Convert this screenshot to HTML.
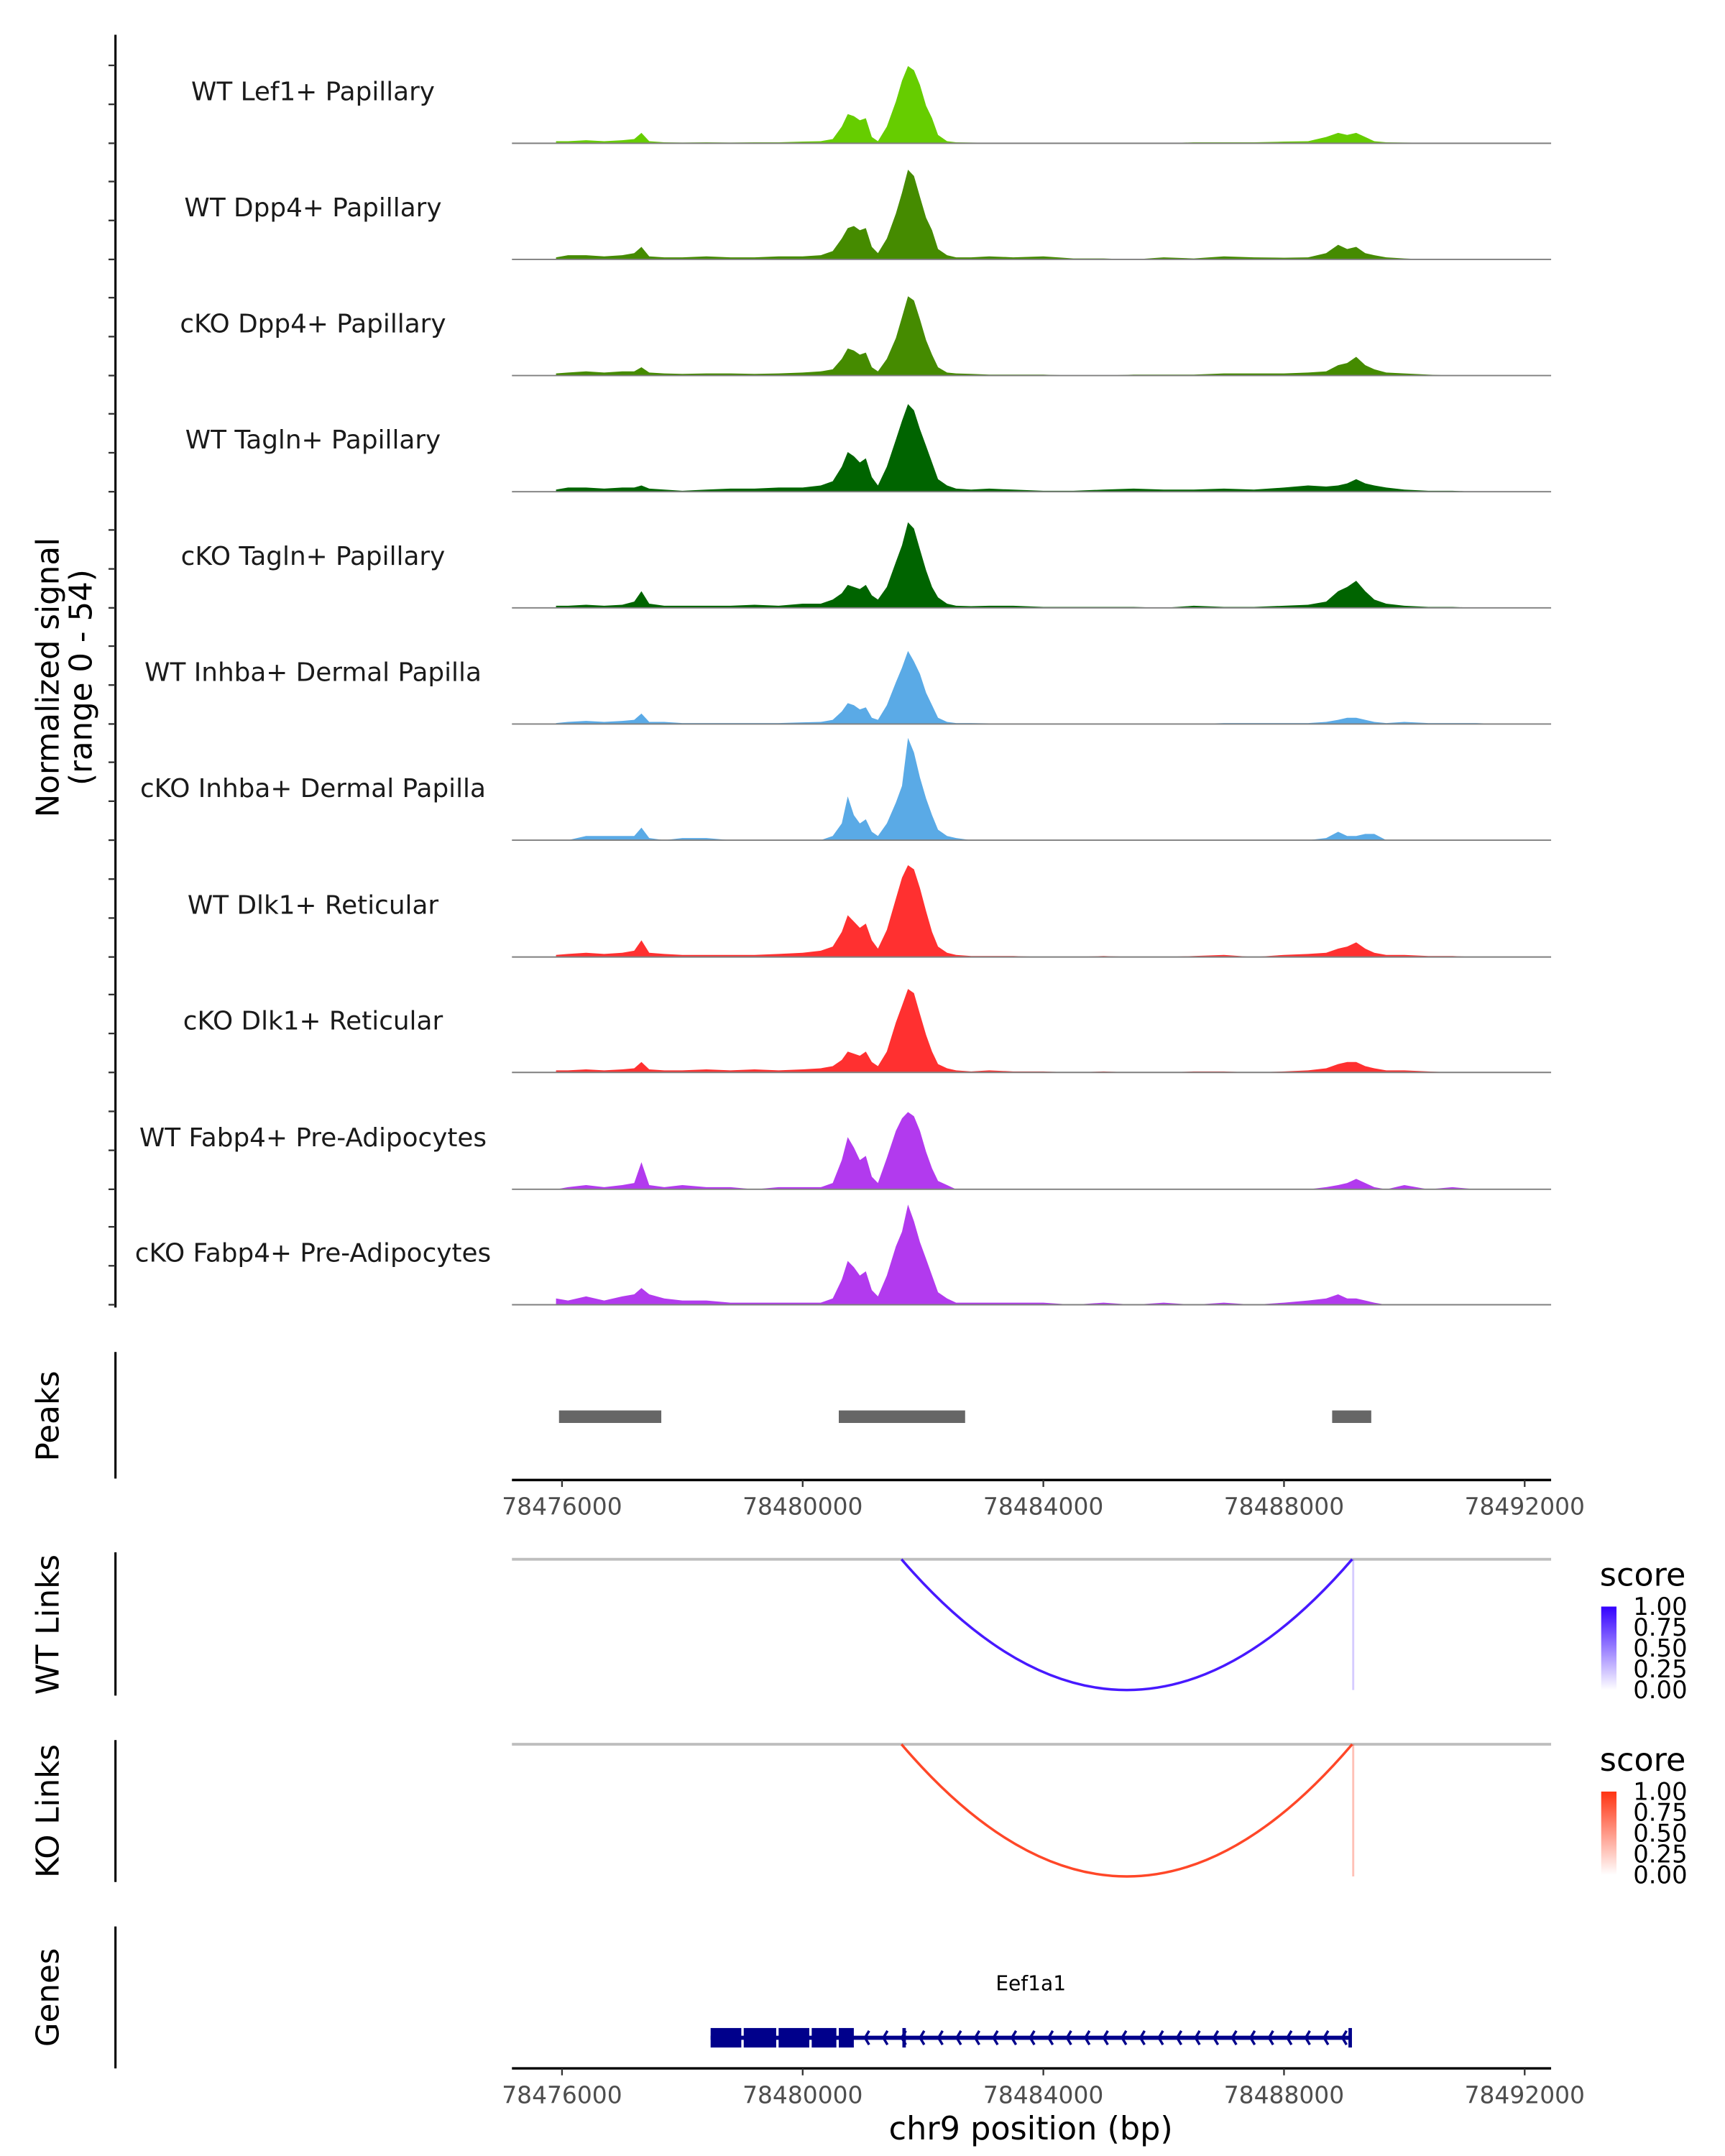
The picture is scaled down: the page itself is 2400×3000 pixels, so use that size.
<!DOCTYPE html>
<html><head><meta charset="utf-8"><style>
html,body{margin:0;padding:0;background:#fff}
svg{display:block}
text{font-family:"DejaVu Sans","Liberation Sans",sans-serif}
</style></head><body>
<svg id="chart" width="2400" height="3000" viewBox="0 0 1240 1550" xmlns="http://www.w3.org/2000/svg">
<g id="g-tracks"></g>
<g id="g-static">
  <line x1="83" y1="25" x2="83" y2="940" stroke="#000" stroke-width="1.6"/>
  <text transform="translate(42,487) rotate(-90)" font-size="22.5" text-anchor="middle">Normalized signal</text>
  <text transform="translate(66,487) rotate(-90)" font-size="22.5" text-anchor="middle">(range 0 - 54)</text>
  <line x1="83" y1="972" x2="83" y2="1063" stroke="#000" stroke-width="1.6"/>
  <text transform="translate(42,1018) rotate(-90)" font-size="22.5" text-anchor="middle">Peaks</text>
  <line x1="83" y1="1116" x2="83" y2="1219" stroke="#000" stroke-width="1.6"/>
  <text transform="translate(42,1168) rotate(-90)" font-size="22.5" text-anchor="middle">WT Links</text>
  <line x1="83" y1="1251" x2="83" y2="1353" stroke="#000" stroke-width="1.6"/>
  <text transform="translate(42,1302) rotate(-90)" font-size="22.5" text-anchor="middle">KO Links</text>
  <line x1="83" y1="1385" x2="83" y2="1487" stroke="#000" stroke-width="1.6"/>
  <text transform="translate(42,1436) rotate(-90)" font-size="22.5" text-anchor="middle">Genes</text>
  <text x="741" y="1538" font-size="23" text-anchor="middle">chr9 position (bp)</text>
  <defs>
    <linearGradient id="gBlue" x1="0" y1="1" x2="0" y2="0"><stop offset="0" stop-color="#ffffff"/><stop offset="1" stop-color="#3300ff"/></linearGradient>
    <linearGradient id="gRed" x1="0" y1="1" x2="0" y2="0"><stop offset="0" stop-color="#ffffff"/><stop offset="1" stop-color="#ff3311"/></linearGradient>
  </defs>
</g>
</svg>
<script>
const NS="http://www.w3.org/2000/svg";
const xTicks=[78476000,78480000,78484000,78488000,78492000];
const legendTicks=["1.00","0.75","0.50","0.25","0.00"];
const positions=[75900,76100,76400,76700,77000,77200,77320,77450,77700,78000,78400,78800,79200,79600,80000,80300,80500,80650,80750,80850,80950,81050,81150,81250,81400,81550,81650,81750,81850,81950,82050,82150,82250,82400,82550,82800,83100,83500,84000,84500,85000,85500,86000,86500,87000,87500,88000,88400,88700,88900,89050,89200,89350,89500,89700,90000,90400,90800,91200,91600].map(v=>v+78400000);
const trackNames=["WT Lef1+ Papillary","WT Dpp4+ Papillary","cKO Dpp4+ Papillary","WT Tagln+ Papillary","cKO Tagln+ Papillary","WT Inhba+ Dermal Papilla","cKO Inhba+ Dermal Papilla","WT Dlk1+ Reticular","cKO Dlk1+ Reticular","WT Fabp4+ Pre-Adipocytes","cKO Fabp4+ Pre-Adipocytes"];
const trackColors=["#66cd00","#458b00","#458b00","#006400","#006400","#5aaae6","#5aaae6","#ff3030","#ff3030","#b23aee","#b23aee"];
const t1=[1,1,1.5,1,1.5,2,5,1,0.5,0.3,0.5,0.3,0.5,0.5,0.8,1,2,8,14,13,11,12,3,1,8,20,30,37,35,28,18,12,4,1,0.5,0.3,0.2,0,0,0,0,0,0,0.5,0.5,0.5,0.8,1,3,5,4,5,3,1,0.5,0.3,0.2,0,0,0];
const t2=[1,2,2,1.5,2,3,6,1.5,1,1,1.5,1,1,1.5,1.5,2,4,10,15,16,14,15,6,3,10,22,32,43,40,30,20,14,5,2,1,1,1.5,1,1.5,0.5,0.5,0,1,0.5,1.5,1,0.8,1,3,7,5,6,3,2,1,0.5,0,0,0,0];
const t3=[1,1.5,2,1.5,2,2,4,1.5,1,0.8,1,1,0.8,1,1.5,2,3,8,13,12,10,11,4,2,8,18,28,38,36,27,17,10,4,1.5,1,0.8,0.5,0.5,0.5,0,0,0.5,0.5,0.5,1,1,1,1.5,2,5,6,9,5,3,1.5,1,0.5,0,0,0];
const t4=[1,2,2,1.5,2,2,3,1.5,1,0.5,1,1.5,1.5,2,2,3,5,12,19,17,14,16,7,3,12,25,34,42,39,30,22,14,6,3,1.5,1,1.5,1,0.5,0.5,1,1.5,1,1,1.5,1,2,3,2.5,3,4,6,4,3,2,1,0.5,0.5,0,0];
const t5=[1,1,1.5,1,1.5,3,8,2,1,1,1,1,1.5,1,2,2,4,7,11,10,9,11,6,4,10,22,30,41,38,28,18,10,5,2,1,0.8,1,1,0.5,0.5,0.5,0.5,0,1,0.5,0.5,1,1.5,3,8,10,13,8,4,2,1,0.5,0.5,0,0];
const t6=[0.5,1,1.5,1,1.5,2,5,1,1,0.5,0.5,0.5,0.5,0.5,0.8,1,2,6,10,9,7,8,3,2,9,20,27,35,30,24,15,9,3,1,0.5,0.5,0.3,0,0,0,0,0,0,0,0.5,0.5,0.5,0.5,1,2,3,3,2,1,0.5,1,0.5,0.5,0.5,0];
const t7=[0,0,2,2,2,2,6,1,0,1,1,0,0,0,0,0,2,8,21,12,8,10,4,2,8,18,26,49,42,30,20,12,5,2,1,0,0,0,0,0,0,0,0,0,0,0,0,0,1,4,2,2,3,3,0,0,0,0,0,0];
const t8=[1,1.5,2,1.5,2,3,8,2,1.5,1,1,1,1,1.5,2,3,5,12,20,17,14,16,8,4,13,28,38,44,42,33,22,12,5,2,1,0.5,0.5,0.5,0,0,0.5,0,0,0.5,1,0,1,1.5,2,4,5,7,4,2,1,1,0.5,0.5,0,0];
const t9=[1,1,1.5,1,1.5,2,5,1.5,1,1,1.5,1,1.5,1,1.5,2,3,6,10,9,8,10,5,3,10,24,32,40,38,28,18,10,4,2,1,0.5,1,0.5,0.5,0,0.5,0,0,0.5,0.5,0,0.5,1,2,4,5,5,3,2,1,1,0.5,0,0,0];
const t10=[0,1,2,1,2,3,13,2,1,2,1,1,0,1,1,1,3,14,25,20,14,16,6,3,15,28,34,37,35,28,18,10,4,2,0,0,0,0,0,0,0,0,0,0,0,0,0,0,1,2,3,5,3,1,0,2,0,1,0,0];
const t11=[3,2,4,2,4,5,8,5,3,2,2,1,1,1,1,1,3,12,21,18,14,16,7,4,14,28,35,48,40,30,22,14,6,3,1,1,1,1,1,0,1,0,1,0,1,0,1,2,3,5,3,3,2,1,0,0,0,0,0,0];
const trackValues=[t1,t2,t3,t4,t5,t6,t7,t8,t9,t10,t11];
const peakStarts=[78475950,78480600,78488800];
const peakEnds=[78477650,78482700,78489450];
const linkStarts=[78481642,78489133];
const linkEnds=[78489133,78489150];
const wtLinkScores=[0.8,0.2];
const koLinkScores=[0.8,0.3];
const exonStarts=[78478470,78479020,78479600,78480150,78480600];
const exonEnds=[78478980,78479560,78480110,78480560,78480850];
const geneStart=78478470, geneEnd=78489100, geneLabel="Eef1a1";

const X0=368,X1=1115;
const xs=bp=>404+(bp-78476000)*692/16000;
const yMax=54, trackH=81;
const baselines=[103,186.5,270,353.5,437,520.5,604,688,771,855,938];
const chart=document.getElementById('chart');
const gT=document.getElementById('g-tracks');
function mk(tag,attrs,parent){const e=document.createElementNS(NS,tag);for(const k in attrs)e.setAttribute(k,attrs[k]);(parent||chart).appendChild(e);return e;}

baselines.forEach((b,i)=>{
  [0,28,56].forEach(d=>{
    const t=mk('line',{x1:78,x2:83,y1:b-d,y2:b-d,stroke:'#333','stroke-width':1.2});
    
    
  });
});

trackValues.forEach((vals,i)=>{
  const b=baselines[i];
  const g=mk('g',{},gT);
  
  
  const ys=v=>b-v/yMax*trackH;
  let d='M'+xs(positions[0])+','+b;
  positions.forEach((p,j)=>{d+=' L'+xs(p).toFixed(1)+','+ys(vals[j]).toFixed(1);});
  d+=' L'+xs(positions[positions.length-1])+','+b+' Z';
  const a=mk('path',{d:d,fill:trackColors[i],stroke:'none'},g);
  
  
  const bl=mk('line',{x1:X0,x2:X1,y1:b,y2:b,stroke:'#7f7f7f','stroke-width':1},g);
  
  
  const lb=mk('text',{x:225,y:b-31,'font-size':18.5,'text-anchor':'middle',fill:'#1a1a1a'},g);
  lb.textContent=trackNames[i];
  
  
});

peakStarts.forEach((s,i)=>{
  const r=mk('rect',{x:xs(s),y:1014,width:xs(peakEnds[i])-xs(s),height:9,fill:'#666666'});
  
  
});

function xAxis(y,name){
  const l=mk('line',{x1:X0,x2:X1,y1:y,y2:y,stroke:'#000','stroke-width':1.8});
  
  
  xTicks.forEach(t=>{
    const tk=mk('line',{x1:xs(t),x2:xs(t),y1:y,y2:y+5,stroke:'#333','stroke-width':1.2});
    
    
    const tx=mk('text',{x:xs(t),y:y+25,'font-size':17,'text-anchor':'middle',fill:'#4d4d4d'});
    tx.textContent=t;
    
    
  });
}
xAxis(1064,'peaks-x-axis');
xAxis(1487,'x-axis');

function links(top,bottom,scores,color,grad,name){
  const gl=mk('line',{x1:X0,x2:X1,y1:top,y2:top,stroke:'#bebebe','stroke-width':2});
  
  
  linkStarts.forEach((s,i)=>{
    const a=xs(s),b=xs(linkEnds[i]);
    const sc=scores[i];
    let el;
    if(b-a<3){
      el=mk('line',{x1:b,x2:b,y1:top,y2:bottom,stroke:color,'stroke-opacity':sc,'stroke-width':1.5});
    } else {
      const cy=top+(bottom-top)*2;
      el=mk('path',{d:`M${a},${top} Q${(a+b)/2},${cy} ${b},${top}`,fill:'none',stroke:color,'stroke-opacity':Math.min(1,sc+0.1),'stroke-width':1.8});
    }
    
    
  });
  const lt=mk('text',{x:1150,y:top+19,'font-size':23});
  lt.textContent='score';
  
  
  const cb=mk('rect',{x:1151,y:top+34,width:11,height:60,fill:`url(#${grad})`});
  
  
  legendTicks.forEach((t,i)=>{
    const tx=mk('text',{x:1174,y:top+40+i*15,'font-size':17.5,fill:'#000'});
    tx.textContent=t;
    
    
  });
}
links(1121,1215,wtLinkScores,'#3300ff','gBlue','wt-links');
links(1254,1349,koLinkScores,'#ff3311','gRed','ko-links');

const gy=1465;
const gl=mk('line',{x1:xs(geneStart),x2:xs(geneEnd),y1:gy,y2:gy,stroke:'#00008b','stroke-width':3});


exonStarts.forEach((s,i)=>{
  const r=mk('rect',{x:xs(s),y:gy-7,width:xs(exonEnds[i])-xs(s),height:14,fill:'#00008b'});
  
  
});
for(let x=xs(exonEnds[exonEnds.length-1])+8;x<xs(geneEnd)-3;x+=13.2){
  const ar=mk('path',{d:`M${x+3},${gy-5} L${x},${gy} L${x+3},${gy+5}`,fill:'none',stroke:'#00008b','stroke-width':1.8});
  
  
}
[78481686,geneEnd].forEach(p=>{
  const t=mk('line',{x1:xs(p),x2:xs(p),y1:gy-7,y2:gy+7,stroke:'#00008b','stroke-width':2.5});
  
  
});
const gt=mk('text',{x:741,y:1431,'font-size':14.5,'text-anchor':'middle'});
gt.textContent=geneLabel;


</script>
</body></html>
